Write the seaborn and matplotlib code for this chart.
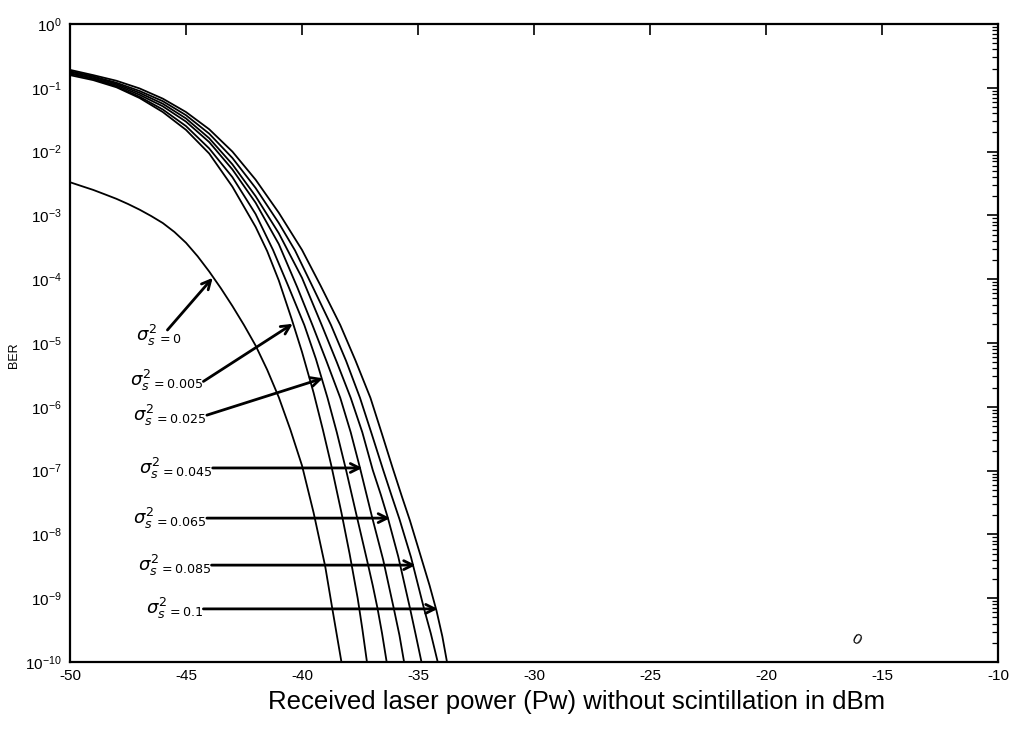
import numpy as np
import pandas as pd
import matplotlib
matplotlib.use("Agg")
import matplotlib.pyplot as plt
import seaborn as sns
from matplotlib.ticker import LogLocator, NullFormatter

# Scintillation variance of each curve (sigma_s^2)
sigma_values = ["0", "0.005", "0.025", "0.045", "0.065", "0.085", "0.1"]

# Received power (dBm) and BER for each scintillation variance
power_s0 = [-50, -49.5, -49, -48.5, -48, -47.5, -47, -46.5, -46, -45.5, -45, -44.5,
            -44, -43.5, -43, -42.5, -42, -41.5, -41, -40.5, -40, -39.5, -39, -38.7, -38.3]
ber_s0 = [3.31e-3, 2.88e-3, 2.51e-3, 2.14e-3, 1.82e-3, 1.51e-3, 1.23e-3, 9.77e-4,
          7.59e-4, 5.50e-4, 3.72e-4, 2.29e-4, 1.32e-4, 7.24e-5, 3.80e-5, 1.91e-5,
          9.12e-6, 3.80e-6, 1.41e-6, 4.37e-7, 1.20e-7, 2.19e-8, 3.16e-9, 7.08e-10, 1.0e-10]

power_s1 = [-50, -49, -48, -47, -46, -45, -44, -43, -42, -41.5, -41, -40.45, -40.0,
            -39.5, -39.1, -38.75, -38.3, -37.95, -37.6, -37.4, -37.2]
ber_s1 = [1.58e-1, 1.32e-1, 1.02e-1, 6.92e-2, 4.17e-2, 2.19e-2, 9.33e-3, 2.82e-3,
          6.61e-4, 2.75e-4, 9.55e-5, 2.40e-5, 7.24e-6, 1.66e-6, 4.37e-7, 1.26e-7,
          2.19e-8, 5.01e-9, 1.0e-9, 3.31e-10, 1.0e-10]

power_s2 = [-50, -49, -48, -47, -46, -45, -44, -43, -42, -41.25, -40.6, -39.9, -39.4,
            -38.9, -38.5, -38.1, -37.65, -37.2, -36.95, -36.75, -36.55, -36.35]
ber_s2 = [1.66e-1, 1.38e-1, 1.05e-1, 7.24e-2, 4.57e-2, 2.51e-2, 1.12e-2, 3.98e-3,
          1.05e-3, 2.88e-4, 7.94e-5, 1.91e-5, 5.62e-6, 1.38e-6, 3.98e-7, 1.02e-7,
          2.00e-8, 3.98e-9, 1.58e-9, 7.08e-10, 2.82e-10, 1.0e-10]

power_s3 = [-50, -49, -48, -47, -46, -45, -44, -43, -42, -41, -40.2, -39.55, -38.95,
            -38.35, -37.9, -37.5, -37.0, -36.5, -36.05, -35.8, -35.6]
ber_s3 = [1.70e-1, 1.41e-1, 1.10e-1, 7.76e-2, 5.13e-2, 2.95e-2, 1.41e-2, 5.25e-3,
          1.58e-3, 3.55e-4, 7.41e-5, 1.91e-5, 5.25e-6, 1.38e-6, 3.98e-7, 1.10e-7,
          2.00e-8, 3.98e-9, 7.08e-10, 2.63e-10, 1.0e-10]

power_s4 = [-50, -49, -48, -47, -46, -45, -44, -43, -42, -41, -40, -39.15, -38.5,
            -37.9, -37.4, -36.95, -36.6, -36.3, -35.85, -35.6, -35.35, -35.1, -34.85]
ber_s4 = [1.78e-1, 1.48e-1, 1.15e-1, 8.32e-2, 5.62e-2, 3.31e-2, 1.62e-2, 6.31e-3,
          2.00e-3, 5.25e-4, 1.05e-4, 1.91e-5, 5.01e-6, 1.38e-6, 3.98e-7, 1.02e-7,
          4.17e-8, 1.82e-8, 4.47e-9, 1.78e-9, 7.08e-10, 2.69e-10, 1.0e-10]

power_s5 = [-50, -49, -48, -47, -46, -45, -44, -43, -42, -41, -40.3, -39.5, -38.75,
            -38.1, -37.5, -37.0, -36.5, -36.15, -35.8, -35.3, -34.75, -34.45, -34.15]
ber_s5 = [1.82e-1, 1.51e-1, 1.20e-1, 8.91e-2, 6.17e-2, 3.72e-2, 1.91e-2, 7.94e-3,
          2.69e-3, 7.59e-4, 2.82e-4, 7.08e-5, 1.91e-5, 5.25e-6, 1.38e-6, 3.80e-7,
          1.02e-7, 4.17e-8, 1.74e-8, 4.37e-9, 7.08e-10, 2.82e-10, 1.0e-10]

power_s6 = [-50, -49, -48, -47, -46, -45, -44, -43, -42, -41, -40, -39.2, -38.35,
            -37.7, -37.05, -36.55, -36.1, -35.7, -35.35, -34.85, -34.5, -34.2, -33.95,
            -33.75]
ber_s6 = [1.91e-1, 1.58e-1, 1.29e-1, 9.77e-2, 6.76e-2, 4.17e-2, 2.24e-2, 1.0e-2,
          3.63e-3, 1.10e-3, 2.88e-4, 7.94e-5, 1.91e-5, 5.37e-6, 1.38e-6, 3.72e-7,
          1.12e-7, 3.98e-8, 1.66e-8, 4.17e-9, 1.58e-9, 6.31e-10, 2.51e-10, 1.0e-10]

x_ticks = [-50, -45, -40, -35, -30, -25, -20, -15, -10]
x_tick_labels = ["-50", "-45", "-40", "-35", "-30", "-25", "-20", "-15", "-10"]
y_ticks = [1e-10, 1e-9, 1e-8, 1e-7, 1e-6, 1e-5, 1e-4, 1e-3, 1e-2, 1e-1, 1e0]

# Arrow callouts: (arrow tip on curve, arrow tail, label anchor)
callouts = [
    ((-43.85, 1.05e-4), (-45.8, 1.6e-5), (-45.2, 1.3e-5)),
    ((-40.4, 2.0e-5), (-44.25, 2.5e-6), (-44.25, 2.6e-6)),
    ((-39.1, 2.8e-6), (-44.1, 7.4e-7), (-44.1, 7.4e-7)),
    ((-37.4, 1.1e-7), (-43.85, 1.1e-7), (-43.85, 1.1e-7)),
    ((-36.2, 1.8e-8), (-44.1, 1.8e-8), (-44.1, 1.8e-8)),
    ((-35.1, 3.3e-9), (-43.9, 3.3e-9), (-43.9, 3.3e-9)),
    ((-34.15, 6.8e-10), (-44.25, 6.8e-10), (-44.25, 6.8e-10)),
]

powers = [power_s0, power_s1, power_s2, power_s3, power_s4, power_s5, power_s6]
bers = [ber_s0, ber_s1, ber_s2, ber_s3, ber_s4, ber_s5, ber_s6]
frames = []
for sig, p, b in zip(sigma_values, powers, bers):
    frames.append(pd.DataFrame({"power": p, "ber": b, "sigma": sig}))
df = pd.concat(frames, ignore_index=True)

sns.set_style("white")
plt.rcParams["font.family"] = ["Liberation Sans", "DejaVu Sans"]
plt.rcParams["text.color"] = "black"
plt.rcParams["axes.labelcolor"] = "black"

fig = plt.figure(figsize=(10.23, 7.29), dpi=100)
ax = fig.add_axes([70 / 1023, 1 - 662 / 729, 928 / 1023, 638 / 729])

sns.lineplot(data=df, x="power", y="ber", hue="sigma", hue_order=sigma_values,
             palette=["black"] * len(sigma_values), estimator=None, sort=False,
             legend=False, linewidth=1.3, ax=ax)

ax.set_yscale("log")
ax.set_xlim(-50, -10)
ax.set_ylim(1e-10, 1)
ax.set_xticks(x_ticks)
ax.set_xticklabels(x_tick_labels)
ax.set_yticks(y_ticks)
ax.yaxis.set_minor_locator(LogLocator(base=10, subs=np.arange(2, 10), numticks=20))
ax.yaxis.set_minor_formatter(NullFormatter())
ax.tick_params(which="both", direction="in", top=True, right=True, colors="black")
ax.tick_params(which="major", length=8, width=1.2)
ax.tick_params(which="minor", length=4, width=0.9)
ax.tick_params(axis="x", labelsize=11, pad=5)
ax.tick_params(axis="y", labelsize=11, pad=6)
for sp in ax.spines.values():
    sp.set_color("black")
    sp.set_linewidth(1.6)

ax.set_xlabel("Received laser power (Pw) without scintillation in dBm",
              fontsize=18.5, color="black")
ax.xaxis.set_label_coords(0.546, -0.044)
ax.set_ylabel("BER", fontsize=9, color="black")
ax.yaxis.set_label_coords(-0.054, 0.481)

for sig, (tip, tail, lab) in zip(sigma_values, callouts):
    ax.annotate("", xy=tip, xytext=tail,
                arrowprops=dict(arrowstyle="->", color="black", lw=2.0,
                                shrinkA=0, shrinkB=0, mutation_scale=16))
    ax.text(lab[0], lab[1], rf"$\sigma_s^{{2}}{{}}_{{={sig}}}$", fontsize=13,
            ha="right", va="center", color="black")

ax.text(-16.1, 2.2e-10, "0", fontsize=11, rotation=-30, ha="center", va="center")

fig.savefig("out.png", dpi=100)
